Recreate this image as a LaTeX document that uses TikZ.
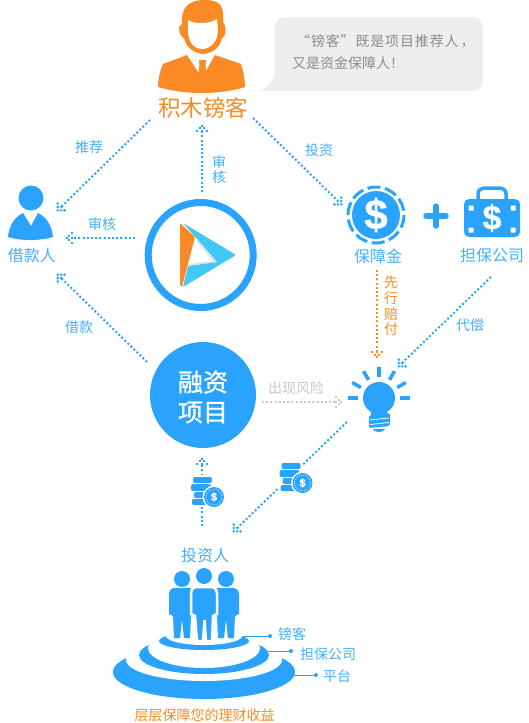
\documentclass[tikz,border=0pt]{standalone}
\usepackage{fontspec}
\usepackage{xcolor}
\newfontfamily\cjk{Noto Sans CJK SC}
\newfontfamily\cjkwide[LetterSpace=6]{Noto Sans CJK SC}
\newfontfamily\cjkheavy[FakeBold=0.8]{Noto Sans CJK SC}
\newfontfamily\dollarfont[FakeBold=0.8]{Liberation Sans Bold}
\definecolor{flowblue}{HTML}{2AA3FF}
\definecolor{labelblue}{HTML}{45AEFF}
\definecolor{manorange}{HTML}{F98A25}
\definecolor{logosky}{HTML}{42C8F4}
\definecolor{bubblegray}{HTML}{EEEEEE}
\definecolor{riskgray}{HTML}{C8C8C8}
\pgfdeclarearrow{
  name = DotHead,
  setup code = {
    \pgfarrowssettipend{1pt}
    \pgfarrowssetbackend{-5.5pt}
    \pgfarrowssetlineend{-5.5pt}
    \pgfarrowssetvisualbackend{-5.5pt}
  },
  drawing code = {
    \pgfsetbuttcap
    \pgfsetlinewidth{2pt}
    \foreach \dotx/\doty in {-1/0,-3.4/2.4,-3.4/-2.4,-5.8/4.8,-5.8/-4.8,-5.8/0}{
      \pgfpathmoveto{\pgfpoint{\dotx pt}{\doty pt}}
      \pgfpathlineto{\pgfpoint{\dotx pt+2pt}{\doty pt}}
      \pgfusepathqstroke
    }
  }
}
\tikzset{
  every node/.style={inner sep=0pt,font=\cjk},
  flow/.style={line width=2pt,dash pattern=on 2pt off 2.2pt,-{DotHead},flowblue},
  flowtext/.style={text=labelblue,font=\cjk\fontsize{14}{15.7}\selectfont,align=center},
  nametext/.style={text=labelblue,font=\cjk\fontsize{16}{18}\selectfont},
  leader/.style={flowblue,line width=1pt},
  coinstack/.pic={
    \fill[white] (-13,-16) rectangle (12,16);
    \fill[flowblue,rounded corners=2pt] (-9,-14) rectangle (10,-8);
    \fill[flowblue,rounded corners=2pt] (-11,-7) rectangle (9,0);
    \fill[flowblue,rounded corners=2pt] (-8,1) rectangle (9,7);
    \fill[flowblue,rounded corners=2pt] (-10,8) rectangle (9,14);
    \fill[white] (12,6) circle (11.5);
    \fill[flowblue] (12,6) circle (10);
    \draw[white,line width=0.6pt,dash pattern=on 0.8pt off 1.2pt] (12,6) circle (8);
    \node[text=white,font=\dollarfont\fontsize{11}{11}\selectfont] at (12,6) {\$};
  }
}
\begin{document}
\begin{tikzpicture}[x=1pt,y=-1pt]
\useasboundingbox (0,0) rectangle (528,723);
\fill[bubblegray,rounded corners=10pt] (275,17) rectangle (483,91);
\fill[bubblegray] (275,70) .. controls (275,80) and (268,88) .. (258,91) -- (285,91) -- (285,70) -- cycle;
\node (bubblefirst) [text=black!45,font=\cjkwide\fontsize{14}{16}\selectfont,anchor=west] at (296,41) {“镑客”既是项目推荐人\hspace{2pt}，};
\node (bubblesecond) [text=black!45,font=\cjk\fontsize{14}{16}\selectfont,anchor=west] at (292,63) {又是资金保障人！};
\fill[manorange] (205,0) .. controls (186,0) and (181,10) .. (182,24) -- (179,27) .. controls (179,33) and (181,37) .. (184,38) .. controls (186,48) and (195,53) .. (203,54) .. controls (212,53) and (220,48) .. (222,38) .. controls (226,37) and (226,30) .. (225,26) -- (223,22) .. controls (224,8) and (222,0) .. (205,0) -- cycle;
\fill[white] (188,20) .. controls (193,23) and (198,23) .. (202,23) .. controls (207,23) and (212,22) .. (217,19) -- (218,30) .. controls (218,42) and (210,49) .. (202,49) .. controls (194,49) and (188,42) .. (188,30) -- cycle;
\fill[manorange] (187,55) -- (163,64) .. controls (160,70) and (158,80) .. (158,87) .. controls (185,95) and (220,95) .. (245,87) .. controls (245,80) and (243,70) .. (241,64) -- (215,55) -- (202,78) -- cycle;
\fill[manorange] (199,60) -- (206,60) -- (205.5,65) -- (207,76) -- (202.5,82) -- (198,76) -- (199.5,65) -- cycle;
\node (broker) [text=manorange,font=\cjk\fontsize{22.5}{24}\selectfont] at (203,108) {积木镑客};
\coordinate (brokerleft) at (150,120);
\coordinate (brokerright) at (253,118);
\coordinate (brokerdown) at (202,125);
\fill[flowblue] (31,198) circle (12.5);
\fill[flowblue] (8,237) .. controls (9,225) and (15,217) .. (23,213) -- (31,226) -- (38,213) .. controls (46,217) and (52,225) .. (53,237) .. controls (40,241) and (20,241) .. (8,237) -- cycle;
\node (borrower) [nametext] at (32,255) {借款人};
\coordinate (borrowtop) at (57,211);
\coordinate (borrowmid) at (66,238);
\coordinate (borrowlow) at (57,274);
\draw[flowblue,line width=7pt] (200.7,255) circle (52.5);
\fill[manorange,rounded corners=1pt] (180,223) -- (195,237) -- (182,287) -- (180,285) -- cycle;
\fill[logosky,rounded corners=1pt] (183,223) -- (236,255) -- (183,287) -- (188,266) -- (217,262) -- (197,239) -- cycle;
\fill[black!12] (197,239) -- (217,262) -- (188,266) -- (189,264) -- (213,261) -- (197,242) -- cycle;
\coordinate (platformup) at (202,192);
\coordinate (platformleft) at (135,238);
\fill[flowblue] (376,215) circle (24);
\draw[flowblue,line width=3pt,dash pattern=on 13pt off 4.6pt] (376,215) circle (28);
\node (funddollar) [text=white,font=\dollarfont\fontsize{42}{42}\selectfont] at (376,215) {\$};
\node (fundname) [nametext] at (378,256) {保障金};
\coordinate (fundout) at (377,270);
\draw[flowblue,line width=5.5pt,line cap=round] (426,216) -- (446,216) (436,206) -- (436,226);
\draw[flowblue,line width=3.5pt] (478,199) -- (478,194) .. controls (478,190) and (481,188) .. (484,188) -- (500,188) .. controls (503,188) and (506,190) .. (506,194) -- (506,199);
\fill[flowblue,rounded corners=5pt] (464,199) rectangle (520,237);
\foreach \cornerx in {471,513}
  \foreach \cornery in {208,230}
    \fill[white,rounded corners=0.5pt] (\cornerx-2.5,\cornery-2.5) rectangle (\cornerx+2.5,\cornery+2.5);
\node (guardollar) [text=white,font=\dollarfont\fontsize{34}{34}\selectfont] at (492,218) {\$};
\node (guarname) [nametext] at (492,255) {担保公司};
\coordinate (guarout) at (491,277);
\fill[flowblue] (379,398) circle (16);
\fill[flowblue] (371,408) -- (387,408) -- (387,415) -- (371,415) -- cycle;
\fill[flowblue,rounded corners=2pt] (369,415) -- (390,413) -- (390,426) -- (369,428) -- cycle;
\draw[white,line width=0.8pt] (370,420) -- (389,418) (370,424.5) -- (389,422.5);
\fill[flowblue] (373,429) -- (385,429) .. controls (384,433) and (374,433) .. (373,429) -- cycle;
\foreach \rayangle in {0,-30,-60,-90,-120,-150,-180}
  \draw[flowblue,line width=3.5pt] (379,398) ++(\rayangle:21) -- ++(\rayangle:10);
\coordinate (bulbtop) at (377,358);
\coordinate (bulbright) at (398,367);
\coordinate (bulbleft) at (342,402);
\coordinate (bulbout) at (347,422);
\node (project) [circle,fill=flowblue,minimum size=106pt] at (203,395) {};
\node (projecttext) [text=white,font=\cjkheavy\fontsize{25}{30}\selectfont,align=center] at (203,397) {融资\\项目};
\coordinate (projectright) at (262,402);
\coordinate (projectlow) at (147,362);
\coordinate (projectup) at (202,458);
\coordinate (investup) at (202,526);
\coordinate (investin) at (233,532);
\coordinate (fundin) at (342,205);
\draw[flow] (brokerleft) -- (borrowtop);
\draw[flow] (brokerright) -- (fundin);
\draw[flow] (platformup) -- (brokerdown);
\draw[flow] (platformleft) -- (borrowmid);
\draw[flow] (projectlow) -- (borrowlow);
\draw[flow,manorange] (fundout) -- (bulbtop);
\draw[flow] (guarout) -- (bulbright);
\draw[flow,riskgray] (projectright) -- (bulbleft);
\draw[flow] (investup) -- (projectup);
\draw[flow] (bulbout) -- (investin);
\pic (coinsup) at (202,491) {coinstack};
\pic (coinsdiag) at (290.5,477) {coinstack};
\node (labelrecommend) [flowtext] at (89,147) {推荐};
\node (labelreviewup) [flowtext] at (219,169.5) {审\\核};
\node (labelinvest) [flowtext] at (319,150) {投资};
\node (labelreview) [flowtext] at (102,224) {审核};
\node (labelloan) [flowtext] at (79,327) {借款};
\node (labelpay) [flowtext,text=manorange] at (391,306) {先\\行\\赔\\付};
\node (labelrepay) [flowtext] at (470,325) {代偿};
\node (labelrisk) [flowtext,text=riskgray] at (296,388) {出现风险};
\node (investor) [nametext] at (205,555) {投资人};
\fill[flowblue] (204,672) ellipse (91 and 27);
\fill[white] (204,660) ellipse (78 and 21);
\fill[flowblue] (204,655) ellipse (65 and 19);
\fill[white] (204,648) ellipse (56 and 20);
\fill[flowblue] (204,641) ellipse (45 and 9);
\fill[white] (204,636) ellipse (38 and 9);
\foreach \personx in {182,226}{
  \fill[flowblue] (\personx,579) circle (8);
  \fill[flowblue] (\personx-8,588) -- (\personx+7,588) .. controls (\personx+11,588) and (\personx+13,591) .. (\personx+13,595) -- (\personx+13,614) -- (\personx+9,616) -- (\personx+8,638) -- (\personx+2,638) -- (\personx,620) -- (\personx-2,638) -- (\personx-8,638) -- (\personx-9,616) -- (\personx-13,614) -- (\personx-13,595) .. controls (\personx-13,591) and (\personx-11,588) .. (\personx-8,588) -- cycle;
}
\fill[flowblue] (204,576) circle (8);
\draw[white,line width=2.5pt,fill=flowblue] (197,587) -- (211,587) .. controls (215,587) and (217,590) .. (217,594) -- (217,614) -- (213,616) -- (212,641) -- (206,641) -- (204.5,620) -- (203,641) -- (197,641) -- (195,616) -- (191,614) -- (191,594) .. controls (191,590) and (193,587) .. (197,587) -- cycle;
\coordinate (tiertop) at (243,636);
\coordinate (tiertopdot) at (270,636);
\coordinate (tiermid) at (268,651);
\coordinate (tiermiddot) at (291,651);
\coordinate (tierlow) at (294,675);
\coordinate (tierlowdot) at (316,675);
\draw[leader] (tiertop) -- (tiertopdot);
\draw[leader] (tiermid) -- (tiermiddot);
\draw[leader] (tierlow) -- (tierlowdot);
\fill[flowblue] (tiertopdot) circle (2);
\fill[flowblue] (tiermiddot) circle (2);
\fill[flowblue] (tierlowdot) circle (2);
\node (tierbroker) [flowtext] at (292,634) {镑客};
\node (tierguar) [flowtext] at (328,654) {担保公司};
\node (tierplat) [flowtext] at (337,676) {平台};
\node (slogan) [flowtext,text=manorange] at (204.5,715) {层层保障您的理财收益};
\end{tikzpicture}
\end{document}
